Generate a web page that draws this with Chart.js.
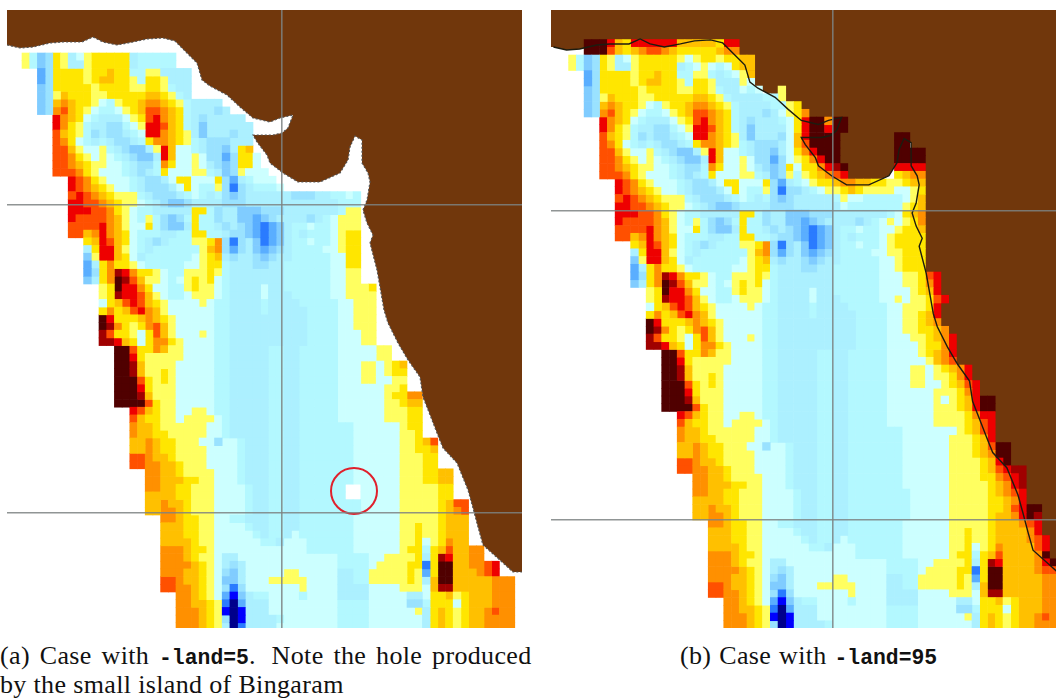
<!DOCTYPE html>
<html>
<head>
<meta charset="utf-8">
<title>Land mask cases</title>
<script src="https://cdn.jsdelivr.net/npm/chart.js@4"></script>
<style>
  html, body { margin: 0; background: #fff; }
  body { position: relative; width: 1056px; height: 699px; overflow: hidden; }
  canvas { position: absolute; top: 10px; filter: blur(0.7px); }
  #panel-a { left: 7px; }
  #panel-b { left: 551px; }
  .caption { position: absolute; white-space: nowrap; font: 26px "Liberation Serif", serif; letter-spacing: 0.35px; color: #111; }
  .caption code { font: bold 21.4px "Liberation Mono", monospace; letter-spacing: 0; word-spacing: 0; }
</style>
</head>
<body>
<canvas id="panel-a" width="515" height="618"></canvas>
<canvas id="panel-b" width="505" height="618"></canvas>
<div class="caption" style="left:0;top:641px;word-spacing:3px">(a) Case with <code>-land=5</code>. <span style="margin-left:6px">Note the hole produced</span></div>
<div class="caption" style="left:0;top:670px">by the small island of Bingaram</div>
<div class="caption" style="left:680px;top:641px;word-spacing:1px">(b) Case with <code>-land=95</code></div>
<script>
// colour levels, one letter per level (cold to hot)
const levelKeys = "abcdefghijklmnopq";
const levelColours = ["#00008c", "#0000ff", "#2a7bff", "#5aaeff", "#80ccff", "#9ae2ff", "#acf0ff", "#b3f8ff", "#ccffff",
    "#ffff60", "#ffe600", "#ffc000", "#ff9000", "#ff5000", "#ee0000", "#a00000", "#500000"];

// sea field, one string per row, "." = no data
const fieldRows = [
    "..jhefkjgijkkkkkghhhhh",
    "..jhefkjggjkkkkkghhhhh",
    "....dfkkkkjkklkkhhjjgggg",
    "....dfkkkkjkllkkjhkkjggg",
    "....efkkkkkjkkkkjjkkjhgg",
    "....efjlkkkjjkkkkkllkjhg",
    "....eflmlkkjihjkklmmlkjhgggg",
    "....efmnlkjihhijklnnmlkhgggfg",
    "......omlkihgggijknomlkhgfggggg",
    "......omkjhggffhijoonlkhgegggggg",
    "......nlkjhfgffghioomlkjgegggfgg",
    "......nmkihghgffghkmmlkjhgfffggg",
    "......nnljiijhgfeegjoliihgffegkl",
    "......nnmkjijihgfeegoliijiffdfkki",
    "......nnmlkjjiihgffhmkiijigfefkki",
    "......nnnmkjiiihgfghkiiijjhgefjiii",
    "........onmkjiiihgffgikkiiikfdghiii",
    "........onmlkjiihgfffgikihhjfcfghhhi",
    "........nonmlkjjjhgfffghihghfefggggggfffgghhih",
    "........oonnmlkjjihgfeefggggfffgggggggggggghhh",
    "........ooonnmkjihhgggggkkhfggeeefffggggggghjj",
    "........onnnnmljihjhfefhkhhfggeedefggggfghijjj",
    "........nnnnomljiikhfeegkhhgfgfedcdeghhihhijjj",
    "........nnlmomlkihhhgghhkkhhgffedcdeghghhhijkk",
    "..........klonlkihgfghhhjjkmfcfgecdeghhihhijkk",
    "..........gkooljihghhhhhhjlmfdfgedefghhhhiijkk",
    "..........ejoolkighhhhhhijklgfggfefgghhhhhiikk",
    "..........dgkmkkjihhhhhiijkkhgggffgghhhhhhiikk",
    "..........dfkmpomkkjihhjjjkjhggggggghhhhhhiijj",
    "..........egkmqpnljjihijkjkihggggggghhhhhhiijj",
    "............jkqoomkiihhjkjjihggggigghhhhhhiijjjk",
    "............jkpoonljihhijjjihggggiggghhhhhiijjjj",
    "............iklnonlkjiiiijihhgggghgggghhhhhiijjj",
    "............kmklnomljiiiiiihhgggghggggghhhhiijjj",
    "............qokkklmlkjiiiiihhgggggggggghhhhiijjj",
    "............qpmkjkmnljiiiiihhgggggggggghhhhiijjj",
    "............pnkkjiknljiiijihhgggggggggghhhhiiijj",
    "............ppolkikmmkjiiiihhgggggggggghhhhiiijj",
    "..............qqnkkmljjiiiihhggggghhgghhhhhiiiiijj",
    "..............qqokjjjjjiiiihhggggghhgghhhhhiiiiijj",
    "..............qqpljjjjiiiiihhggggghhgghhhhhiiijjijkl",
    "..............qqpljjkjiiiiihhggggghhgghhhhhiiijjijkk",
    "..............qqqnkjkjiiiiihhggggghhgghhhhhiiijjiijj",
    "..............qqqokjjjiiiiihhggggghhgghhhhhiiiiiijjk",
    "..............qqqpljjjiiiiihhggggghhgghhhhhiiiiiijkkmm",
    "..............qqqqnkjjiiiiihhggggghhgghhhhhiiiiiijjkll",
    "................onlkjjiijjihhggggghhgghhhhhiiiiiijjjkk",
    "................nlkkjjijjjjihggggghhgghhhhhiiiiiijjjkk",
    "................mllkjjjjjjiihggggghhgghhhhhhhiiiiiijkk",
    "................mllkkjjjjjiihggggghhgghhhhhhhiiiiiijjk",
    "................llmlkkjjjiifiihggghhgghhhhhhhiiiiiijjkln",
    "................llmlkkjjjjiiiihggghhgghhhhhhhiiiiiijjkkl",
    "................nnmllkjjjjiiiihggghhgghhhhhhhiiiiiijjjkk",
    "................nnmmllkjjjiiiihggghhgghhhhhhhiiiiiijjjkk",
    "..................mmllkjjjjiiihggghhgghhhhhhhiiiiiijjjkkll",
    "..................mmlllkkjjiiihggghhgghhhhhhhiiiiiijjjkkll",
    "..................mmllkkjjjiiiihgghhgghhhhhh..iiiiijjjjjkk",
    "..................llllkkjjjiiiihgghhgghhhhhh..iiiiijjjjjkk",
    "..................llmllkjjjiiiihgghhgghhhhhhhhiiiiijjjjjklnn",
    "..................llmmlkjjjiiiihgghhgghhhhhhhhiiiiijjjjjklmn",
    "....................mmlkkjjiihhggghhgghhhhhhhiiiiiijjjjjklll",
    "....................lllkkjjiiiihgghhgghhhhhhhiiiiiijjkjjklll",
    "....................lllkkjjiiiiihghhgihhhhhhhiiiiiijjkjjklll",
    "....................llllkjjiiiiiihhgiiihhhhhhiiiiiijjkijkmll",
    "....................mmmlkkjiiiiiiiiiiiihhhhhhiiiiiijkkhklnllmm",
    "....................mmmlkjjiggiiiiiiiiiiiiihhhhiijjjjkgkpollmm",
    "....................mmmmlkjigfgiiiiiiiiiiiihhhhijjjjkkckqqllmmno",
    "....................mmmllkjifegiiiiijjiiiiigghhjjjjjkjdkqqlllmno",
    "....................nnmllkjieegiiijjjjjiiiigghhjjjjjkjglqqlllllmmm",
    "....................nnmmlkjifcfiiiiiiijiiiiggggiiiijjjilpplllllmmm",
    "......................mmlkjidbeghhiiiihiiiiggggiiiiiggikkljklllmmm",
    "......................mmllkjcadgggiiiiiiiiihhhhiiiiiffhkkkiklllmmm",
    "......................mmmlkjbabgggiiiiiiiiihhhhiiiiiijgklkjkllmnmm",
    "......................mmmlkjfabgggghiiiiiiihhhhiiiiiiigklkjkllmmmm",
    "......................mmmlkjgacggggiiiiiiiihhhhiiiiiiigklkjkllmmmm"
];

// panel (b) keeps the cells along the coast: [row, first column, levels]
const coastCellsB = [
    [-2, 4, "qqqolkoooooolllllkoo"], [-1, 4, "qqqnlklmnnmlkkkkklmm"],
    [0, 16, "jijkkjkkll"], [1, 16, "ghijihikll"], [2, 20, "hghijl"], [3, 24, "ji"],
    [4, 24, "ihi..j"], [5, 24, "ggghhj"], [6, 28, "hhjk"], [7, 29, "ijkm"],
    [8, 29, "hikoqqmqq"], [9, 30, "ikoqqoqq"], [10, 30, "iloqqqq.......qq"], [11, 30, "ilnqqqq.......qq"],
    [12, 30, "ikmoqqq.......qqqq"], [13, 30, "ijkmoqq.......qqqq"], [14, 31, "ikkmopq......oooo"],
    [15, 31, "hjklmno......klmm"], [16, 31, "hijkklmmllkkjjkll"], [17, 31, "fghijjklkjjjjiijk"],
    [18, 36, "hjiihhhhhijl"], [19, 37, "ihhhhhhhjkl"], [20, 44, "iklm"], [21, 44, "ijkm"],
    [22, 43, "ijkkl"], [23, 43, "jkkkk"], [24, 43, "jkkkk"], [25, 43, "jjkkk"], [26, 43, "ijkkk"], [27, 43, "ijkkk"],
    [28, 44, "ijjkno"], [29, 44, "ijjkmo"], [30, 44, "iijklo"], [31, 45, "ijjkno"], [32, 45, "jjjko"],
    [33, 45, "jjklo"], [34, 45, "jjklm"], [35, 46, "jkklm"], [36, 46, "jjklmo"], [37, 46, "ijkkmo"],
    [38, 47, "jklmo"], [39, 47, "ijlmn"], [40, 48, "ijklmo"], [41, 49, "jjkmo"], [42, 49, "ijklno"],
    [43, 50, "jjkmo"], [44, 50, "ijkloqq"], [45, 51, "jkloqq"], [46, 51, "jjkmoo"], [47, 51, "jjklno"],
    [48, 49, "iiijklno"], [49, 52, "jjklo"], [50, 53, "jklnqq"], [51, 53, "jklmqq"], [52, 53, "jjkloq"],
    [53, 53, "jjklnopp"], [54, 53, "jjkkmnop"], [55, 53, "jjjklmop"], [56, 44, "hh"], [57, 44, "hh"], [56, 56, "klmno"], [57, 56, "kklmo"],
    [58, 55, "jkklnoqq"], [59, 55, "jkllmoqp"], [60, 56, "klllmno"], [61, 56, "kllllmo"], [62, 60, "lmno"],
    [63, 60, "llno"], [64, 60, "llmq"], [65, 60, "llmoq"], [66, 60, "llmnn"], [67, 60, "lllmm"]
];

// coastline in map units
const coastX = [7, 20, 33, 50, 63, 82, 93, 103, 117, 133, 147, 163, 175, 187, 197, 202, 210, 227, 240, 253, 270, 280, 293, 288, 282, 273, 260, 253,
    257, 267, 270, 283, 298, 320, 340, 348, 350, 355, 362, 362, 368, 370, 367, 363, 367, 373, 370, 377, 380, 384, 388, 398, 408, 420, 423,
    432, 437, 443, 457, 468, 473, 478, 483, 502, 513, 530];
const coastY = [45, 48, 47, 43, 42, 42, 37, 42, 45, 42, 39, 38, 41, 53, 63, 80, 86, 95, 107, 118, 122, 118, 115, 128, 133, 135, 135, 135,
    142, 155, 163, 173, 182, 182, 173, 160, 147, 136, 140, 163, 173, 182, 200, 210, 223, 235, 243, 270, 287, 310, 323, 343, 360, 377, 397,
    420, 433, 448, 463, 490, 508, 527, 545, 562, 572, 572];
const landCornerX = [560, -20, -20];
const landCornerY = [-20, -20, 45];

const gridXA = [282], gridYA = [205, 513];
const gridXB = [283.8], gridYB = [208, 515];
const holeMarkX = [354], holeMarkY = [491];

function rowsWithCoast() {
    const rows = {};
    fieldRows.forEach((row, r) => { rows[r] = row.split(""); });
    coastCellsB.forEach(([r, start, levels]) => {
        if (!rows[r]) rows[r] = [];
        for (let i = 0; i < levels.length; i++) rows[r][start + i] = levels[i];
    });
    return rows;
}

// one scatter dataset per colour level
function cellDatasets(rows, radius, order) {
    return levelColours.map((colour, n) => {
        const points = [];
        Object.keys(rows).forEach(r => {
            rows[r].forEach((ch, c) => {
                if (ch === levelKeys[n]) points.push({ x: 10.45 + 7.7 * c, y: 56.85 + 7.7 * Number(r) });
            });
        });
        return { data: points, pointStyle: "rect", pointRadius: radius, pointBackgroundColor: colour, pointBorderWidth: 0, order: order };
    });
}

function xyPoints(xs, ys) {
    return xs.map((x, i) => ({ x: x, y: ys[i] }));
}

function axis(min, max, values, reverse) {
    return {
        type: "linear", min: min, max: max, reverse: reverse,
        afterBuildTicks: scale => { scale.ticks = values.map(v => ({ value: v })); },
        ticks: { display: false, autoSkip: false },
        border: { display: false },
        grid: { color: "rgba(125,130,130,0.85)", lineWidth: 1.6, drawTicks: false, z: 1 }
    };
}

function drawPanel(id, datasets, scales) {
    new Chart(document.getElementById(id), {
        type: "scatter",
        data: { datasets: datasets },
        options: {
            responsive: false,
            animation: false,
            layout: { padding: 0, autoPadding: false },
            plugins: { legend: { display: false }, tooltip: { enabled: false } },
            scales: scales
        }
    });
}

const landPoints = xyPoints(coastX.concat(landCornerX), coastY.concat(landCornerY));

// Panel (a): land sits over the cells
drawPanel("panel-a", [
    { data: xyPoints(holeMarkX, holeMarkY), pointStyle: "circle", pointRadius: 23, pointBorderColor: "#e0202c", pointBorderWidth: 2, pointBackgroundColor: "transparent", order: 0 },
    { data: landPoints, showLine: true, fill: "shape", backgroundColor: "#71370c", borderColor: "#555", borderWidth: 1.2, borderDash: [2, 2], pointRadius: 0, order: 1 }
].concat(cellDatasets(Object.fromEntries(fieldRows.map((row, r) => [r, row.split("")])), 5.9, 2)), {
    x: axis(7, 522, gridXA, false),
    y: axis(10, 628, gridYA, true)
});

// Panel (b): cells cover the land, coastline drawn on top
drawPanel("panel-b", [
    { data: xyPoints(coastX, coastY), showLine: true, borderColor: "#1c1c10", borderWidth: 1.4, pointRadius: 0, order: 0 }
].concat(cellDatasets(rowsWithCoast(), 5.9, 1), [
    { data: landPoints, showLine: true, fill: "shape", backgroundColor: "#71370c", borderWidth: 0, pointRadius: 0, order: 2 }
]), {
    x: axis(4.57, 505.8, gridXB, false),
    y: axis(8.28, 622.3, gridYB, true)
});
</script>
</body>
</html>
